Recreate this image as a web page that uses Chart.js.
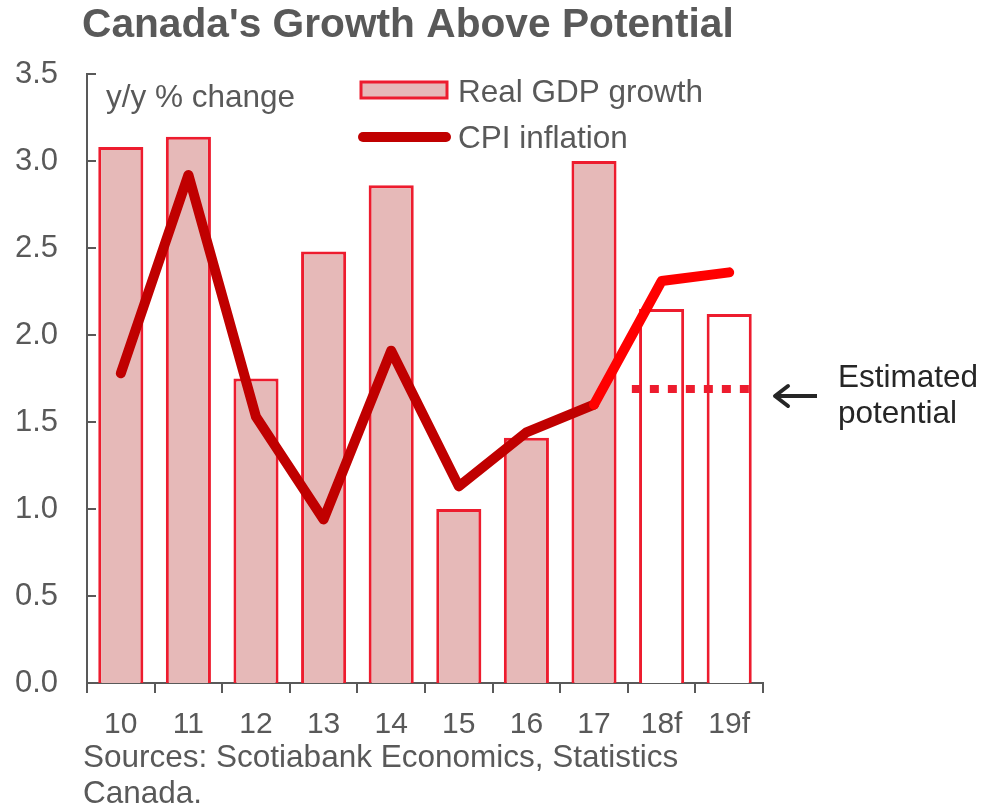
<!DOCTYPE html>
<html>
<head>
<meta charset="utf-8">
<title>Canada's Growth Above Potential</title>
<script src="https://cdn.jsdelivr.net/npm/chart.js@4.4.1/dist/chart.umd.min.js"></script>
<style>
    html, body { margin: 0; padding: 0; background: #ffffff; }
    #growthChart { display: block; }
</style>
</head>
<body>
<canvas id="growthChart" width="984" height="808"></canvas>
<script>
// ---- DATA ----
const years = ['10', '11', '12', '13', '14', '15', '16', '17', '18f', '19f'];
const gdpGrowth = [3.08, 3.14, 1.75, 2.48, 2.86, 1.0, 1.41, 3.0, 2.15, 2.12];
const cpiInflation = [1.78, 2.92, 1.53, 0.94, 1.91, 1.13, 1.44, 1.6, 2.31, 2.36];
const forecastStart = 8; // index of first forecast year (18f)
const potentialRange = [7.56, 9.35]; // on the category index scale
const potentialLevel = 1.69;
const yTicks = { min: 0, max: 3.5, step: 0.5 };

const FONT = "'Liberation Sans', Arial, sans-serif";
const GREY = '#595959';
const BAR_FILL = '#E6B9B8';
const BAR_EDGE = '#ED1C2E';
const CPI_DARK = '#C00000';
const CPI_BRIGHT = '#FF0000';

// Short tick marks pointing into the plot from the y axis
const innerTicks = {
    id: 'innerTicks',
    afterDatasetsDraw(chart) {
        const y = chart.scales.y;
        const ctx = chart.ctx;
        ctx.save();
        ctx.strokeStyle = GREY;
        ctx.lineWidth = 2;
        y.ticks.forEach(t => {
            const py = y.getPixelForValue(t.value);
            ctx.beginPath();
            ctx.moveTo(y.right, py);
            ctx.lineTo(y.right + 9, py);
            ctx.stroke();
        });
        ctx.restore();
    }
};

// Title, legend, unit label, annotation and source line
const chartNotes = {
    id: 'chartNotes',
    afterDraw(chart) {
        const ctx = chart.ctx;
        ctx.save();

        ctx.fillStyle = GREY;
        ctx.textBaseline = 'alphabetic';
        ctx.textAlign = 'left';
        ctx.font = `bold 40.7px ${FONT}`;
        ctx.fillText("Canada's Growth Above Potential", 82, 37);

        ctx.font = `31.5px ${FONT}`;
        ctx.fillText('y/y % change', 106, 107);

        // legend
        ctx.fillStyle = BAR_FILL;
        ctx.fillRect(361, 82, 86, 16);
        ctx.strokeStyle = BAR_EDGE;
        ctx.lineWidth = 3;
        ctx.strokeRect(361, 82, 86, 16);

        ctx.strokeStyle = CPI_DARK;
        ctx.lineWidth = 10;
        ctx.lineCap = 'round';
        ctx.beginPath();
        ctx.moveTo(363, 137);
        ctx.lineTo(446, 137);
        ctx.stroke();

        ctx.fillStyle = GREY;
        ctx.fillText('Real GDP growth', 458, 102);
        ctx.fillText('CPI inflation', 458, 148);

        // sources
        ctx.fillText('Sources: Scotiabank Economics, Statistics', 83, 767);
        ctx.fillText('Canada.', 83, 803);

        // estimated potential arrow + label
        ctx.strokeStyle = '#262626';
        ctx.fillStyle = '#262626';
        ctx.lineWidth = 4;
        ctx.lineCap = 'butt';
        ctx.beginPath();
        ctx.moveTo(817, 396);
        ctx.lineTo(776, 396);
        ctx.stroke();
        ctx.lineCap = 'round';
        ctx.lineJoin = 'round';
        ctx.beginPath();
        ctx.moveTo(788, 386);
        ctx.lineTo(775, 396);
        ctx.lineTo(788, 406);
        ctx.stroke();

        ctx.fillText('Estimated', 838, 387);
        ctx.fillText('potential', 838, 423);

        ctx.restore();
    }
};

new Chart(document.getElementById('growthChart'), {
    type: 'bar',
    data: {
        labels: years,
        datasets: [
            {
                type: 'line',
                label: 'CPI inflation',
                data: cpiInflation,
                borderColor: CPI_DARK,
                borderWidth: 10,
                borderCapStyle: 'round',
                borderJoinStyle: 'round',
                pointRadius: 0,
                tension: 0,
                segment: {
                    borderColor: c => c.p0DataIndex >= forecastStart - 1 ? CPI_BRIGHT : CPI_DARK
                },
                order: 0
            },
            {
                type: 'line',
                label: 'Estimated potential',
                xAxisID: 'xp',
                data: potentialRange.map(x => ({ x: x, y: potentialLevel })),
                borderColor: BAR_EDGE,
                borderWidth: 8,
                borderDash: [9, 9],
                borderCapStyle: 'butt',
                pointRadius: 0,
                order: 1
            },
            {
                label: 'Real GDP growth',
                data: gdpGrowth,
                backgroundColor: gdpGrowth.map((v, i) => i >= forecastStart ? '#FFFFFF' : BAR_FILL),
                borderColor: BAR_EDGE,
                borderWidth: 3,
                grouped: false,
                categoryPercentage: 1,
                barPercentage: 0.667,
                order: 2
            }
        ]
    },
    options: {
        responsive: false,
        animation: false,
        layout: { padding: { top: 74, left: 14, right: 221, bottom: 0 } },
        plugins: {
            legend: { display: false },
            tooltip: { enabled: false }
        },
        scales: {
            x: {
                offset: true,
                grid: {
                    display: true,
                    offset: true,
                    drawOnChartArea: false,
                    drawTicks: true,
                    tickLength: 10,
                    color: GREY,
                    lineWidth: 2
                },
                border: { display: true, color: GREY, width: 2 },
                ticks: {
                    color: GREY,
                    font: { family: FONT, size: 30 },
                    padding: 14,
                    autoSkip: false,
                    maxRotation: 0
                },
                afterFit: s => { s.height = 125; }
            },
            xp: {
                type: 'linear',
                display: false,
                offset: false,
                min: -0.5,
                max: years.length - 0.5
            },
            y: {
                min: yTicks.min,
                max: yTicks.max,
                grid: { display: false, drawTicks: false },
                border: { display: true, color: GREY, width: 2 },
                ticks: {
                    stepSize: yTicks.step,
                    color: GREY,
                    font: { family: FONT, size: 31 },
                    padding: 29,
                    callback: v => v.toFixed(1)
                },
                afterFit: s => { s.width = 73; }
            }
        }
    },
    plugins: [innerTicks, chartNotes]
});
</script>
</body>
</html>
